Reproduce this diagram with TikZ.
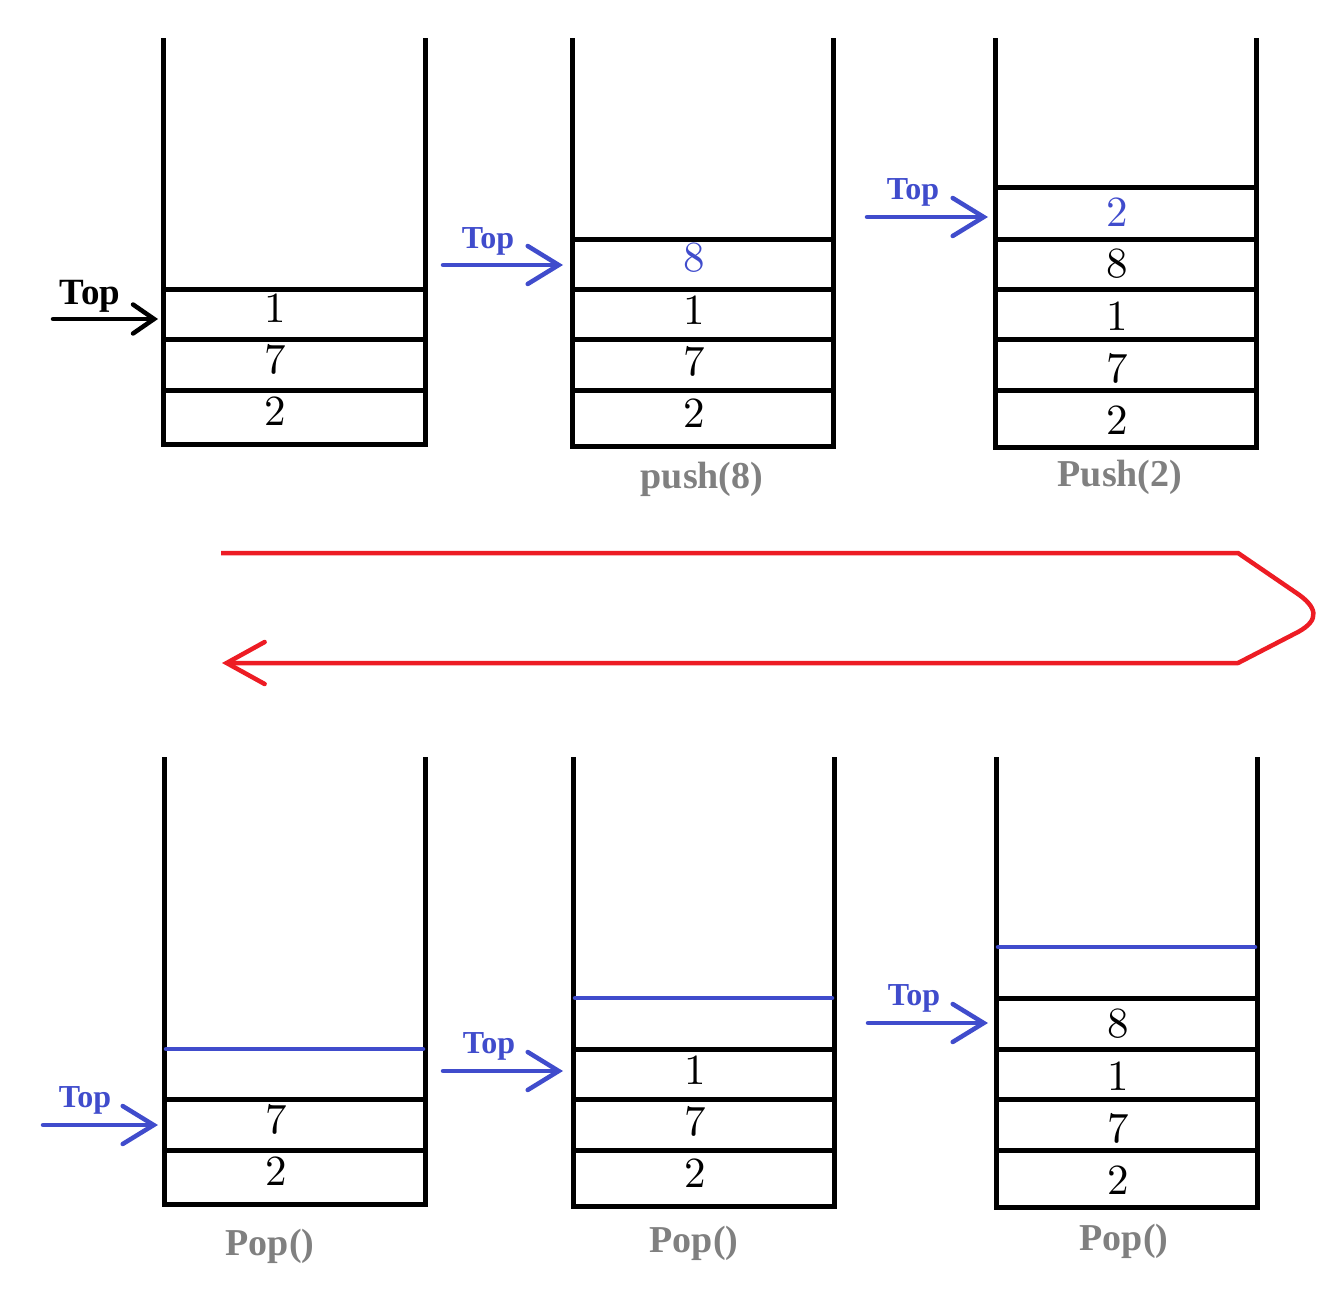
\documentclass[tikz,border=0pt]{standalone}
\usepackage{fontspec}
\newfontfamily\tnr{Liberation Serif}
\usetikzlibrary{arrows.meta}
\definecolor{tblue}{RGB}{64,76,204}
\definecolor{tred}{RGB}{237,28,36}
\definecolor{tgray}{RGB}{128,128,128}
\newcommand{\bignum}[1]{\scalebox{4.3}{\fontsize{10}{12}\selectfont #1}}
\begin{document}
\begin{tikzpicture}[x=1pt,y=-1pt,
  wall/.style={line width=5pt,line join=miter},
  divider/.style={line width=5pt},
  popline/.style={line width=4.5pt,tblue,line cap=round},
  num/.style={inner sep=0pt},
  bnum/.style={num,text=tblue},
  toparrow/.style={line width=4.5pt,tblue,line cap=round,-{Straight Barb[length=31pt,width=38pt,line cap=round]}},
  blackarrow/.style={line width=4.5pt,black,line cap=round,-{Straight Barb[length=21pt,width=29pt,line cap=round]}},
  toplabel/.style={inner sep=0pt,text=tblue,font=\tnr\bfseries\fontsize{32}{32}\selectfont},
  blacklabel/.style={toplabel,text=black,font=\tnr\bfseries\fontsize{37}{37}\selectfont},
  oplabel/.style={inner sep=0pt,text=tgray,font=\tnr\bfseries\fontsize{38}{38}\selectfont},
  redline/.style={line width=4.5pt,tred,line join=round,-{Straight Barb[length=38pt,width=42pt,line cap=round]}}]
\useasboundingbox (0,0) rectangle (1332,1301);

% ---------- top row ----------
% stack 1
\draw[wall] (163,38) -- (163,444) -- (425,444) -- (425,38);
\foreach \y in {289,339,390} \draw[divider] (163,\y) -- (425,\y);
\node[num] (s1a) at (275,308) {\bignum{1}};
\node[num] (s1b) at (275,359) {\bignum{7}};
\node[num] (s1c) at (275,411) {\bignum{2}};
\coordinate (a1s) at (53,319); \coordinate (a1e) at (158,319);
\draw[blackarrow] (a1s) -- (a1e);
\node[blacklabel] (t1) at (90,296) {Top};

% stack 2
\draw[wall] (572,38) -- (572,446) -- (833,446) -- (833,38);
\foreach \y in {239,289,339,390} \draw[divider] (572,\y) -- (833,\y);
\node[bnum] (s2a) at (694,258) {\bignum{8}};
\node[num] (s2b) at (694,310) {\bignum{1}};
\node[num] (s2c) at (694,361) {\bignum{7}};
\node[num] (s2d) at (694,413) {\bignum{2}};
\coordinate (a2s) at (443,265); \coordinate (a2e) at (563,265);
\draw[toparrow] (a2s) -- (a2e);
\node[toplabel] (t2) at (488,241) {Top};
\node[oplabel] (op2) at (702,479) {push(8)};

% stack 3
\draw[wall] (995,38) -- (995,447) -- (1256,447) -- (1256,38);
\foreach \y in {187,239,289,339,390} \draw[divider] (995,\y) -- (1256,\y);
\node[bnum] (s3a) at (1117,212) {\bignum{2}};
\node[num] (s3b) at (1117,264) {\bignum{8}};
\node[num] (s3c) at (1117,316) {\bignum{1}};
\node[num] (s3d) at (1117,368) {\bignum{7}};
\node[num] (s3e) at (1117,420) {\bignum{2}};
\coordinate (a3s) at (867,217); \coordinate (a3e) at (988,217);
\draw[toparrow] (a3s) -- (a3e);
\node[toplabel] (t3) at (913,192) {Top};
\node[oplabel] (op3) at (1120,477) {Push(2)};

% ---------- red return arrow ----------
\coordinate (r1) at (221,553);
\coordinate (r2) at (1238,553);
\coordinate (r3) at (1238,663);
\coordinate (r4) at (222,663);
\draw[redline] (r1) -- (r2) -- (1295,592) .. controls (1318,607) and (1320,620) .. (1298,632) -- (r3) -- (r4);

% ---------- bottom row ----------
% stack 4
\draw[wall] (164,757) -- (164,1204) -- (425,1204) -- (425,757);
\draw[popline] (166,1049) -- (423,1049);
\foreach \y in {1099,1150} \draw[divider] (164,\y) -- (425,\y);
\node[num] (s4a) at (276,1119) {\bignum{7}};
\node[num] (s4b) at (276,1171) {\bignum{2}};
\coordinate (a4s) at (43,1125); \coordinate (a4e) at (158,1125);
\draw[toparrow] (a4s) -- (a4e);
\node[toplabel] (t4) at (85,1100) {Top};
\node[oplabel] (op4) at (270,1246) {Pop()};

% stack 5
\draw[wall] (573,757) -- (573,1206) -- (834,1206) -- (834,757);
\draw[popline] (575,998) -- (832,998);
\foreach \y in {1049,1099,1150} \draw[divider] (573,\y) -- (834,\y);
\node[num] (s5a) at (695,1070) {\bignum{1}};
\node[num] (s5b) at (695,1121) {\bignum{7}};
\node[num] (s5c) at (695,1173) {\bignum{2}};
\coordinate (a5s) at (443,1071); \coordinate (a5e) at (563,1071);
\draw[toparrow] (a5s) -- (a5e);
\node[toplabel] (t5) at (489,1046) {Top};
\node[oplabel] (op5) at (694,1243) {Pop()};

% stack 6
\draw[wall] (996,757) -- (996,1207) -- (1257,1207) -- (1257,757);
\draw[popline] (998,947) -- (1255,947);
\foreach \y in {998,1049,1099,1150} \draw[divider] (996,\y) -- (1257,\y);
\node[num] (s6a) at (1118,1024) {\bignum{8}};
\node[num] (s6b) at (1118,1076) {\bignum{1}};
\node[num] (s6c) at (1118,1128) {\bignum{7}};
\node[num] (s6d) at (1118,1180) {\bignum{2}};
\coordinate (a6s) at (868,1023); \coordinate (a6e) at (988,1023);
\draw[toparrow] (a6s) -- (a6e);
\node[toplabel] (t6) at (914,998) {Top};
\node[oplabel] (op6) at (1124,1241) {Pop()};
\end{tikzpicture}
\end{document}
